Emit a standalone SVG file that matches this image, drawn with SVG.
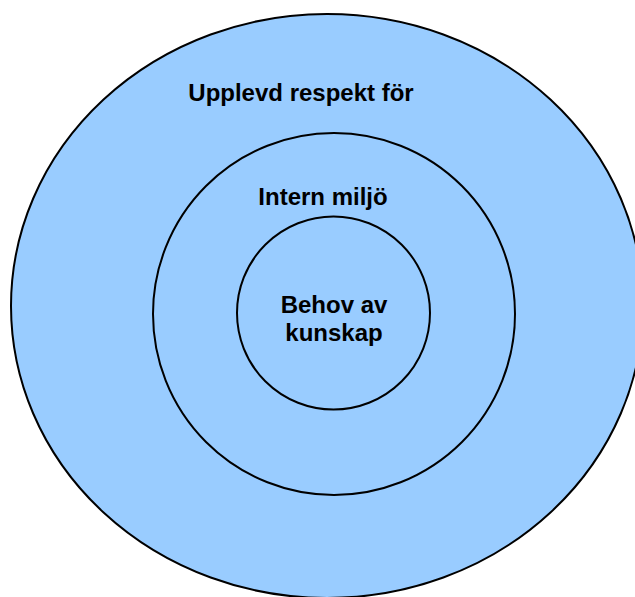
<svg xmlns="http://www.w3.org/2000/svg" width="635" height="597" viewBox="0 0 635 597">
<style>
.ring{fill:#99CCFF;stroke:#000;stroke-width:2}
.lbl{font-family:"Liberation Sans",Arial,sans-serif;font-weight:bold;font-size:24px;fill:#000;text-anchor:middle}
</style>
<rect width="635" height="597" fill="#fff"/>
<g id="outer">
<ellipse class="ring" cx="327" cy="306" rx="316" ry="292"/>
<text class="lbl" x="301" y="101">Upplevd respekt för</text>
</g>
<g id="middle">
<circle class="ring" cx="334" cy="314" r="181"/>
<text class="lbl" x="323" y="205">Intern miljö</text>
</g>
<g id="inner">
<circle class="ring" cx="333.5" cy="313" r="96.5"/>
<text class="lbl" x="334" y="313">Behov av</text>
<text class="lbl" x="334" y="341">kunskap</text>
</g>
<g id="connectors"/>
</svg>
